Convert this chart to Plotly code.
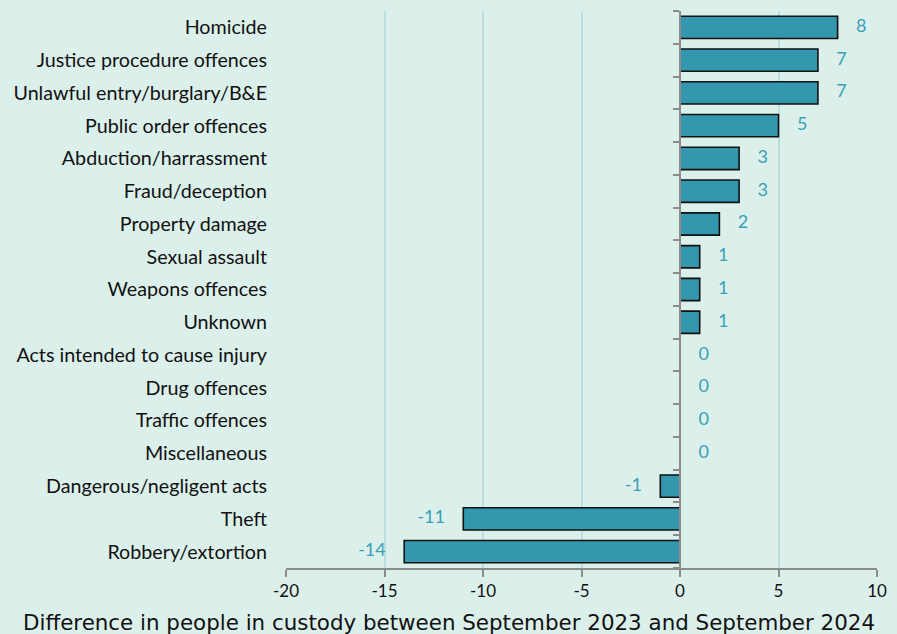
import plotly.graph_objects as go

categories = ["Homicide", "Justice procedure offences", "Unlawful entry/burglary/B&E",
              "Public order offences", "Abduction/harrassment", "Fraud/deception",
              "Property damage", "Sexual assault", "Weapons offences", "Unknown",
              "Acts intended to cause injury", "Drug offences", "Traffic offences",
              "Miscellaneous", "Dangerous/negligent acts", "Theft", "Robbery/extortion"]
values = [8, 7, 7, 5, 3, 3, 2, 1, 1, 1, 0, 0, 0, 0, -1, -11, -14]
x_ticks = [-20, -15, -10, -5, 0, 5, 10]
x_title = "Difference in people in custody between September 2023 and September 2024"

BG = "#dcf0eb"
BAR = "#3398ad"
LBL = "#3a9fb8"
GRID = "#bcdede"
AX = "#8c8c8c"

fig = go.Figure()
fig.add_trace(go.Bar(
    y=categories, x=values, orientation="h",
    marker=dict(color=BAR, line=dict(color="#111111", width=1.6)),
    width=0.68, hoverinfo="skip", showlegend=False,
))
fig.add_trace(go.Scatter(
    y=categories, x=values, mode="text",
    text=[f"    {v}" if v >= 0 else f"{v}    " for v in values],
    textposition=["middle right" if v >= 0 else "middle left" for v in values],
    textfont=dict(family="Lato", size=18, color=LBL),
    hoverinfo="skip", showlegend=False,
))
# zero axis with boundary ticks
fig.add_trace(go.Scatter(
    y=categories, x=[0] * len(categories), yaxis="y2", mode="markers",
    marker=dict(opacity=0), hoverinfo="skip", showlegend=False,
))

fig.add_annotation(text=x_title, xref="paper", yref="paper", x=0.275, y=-0.097,
                   xanchor="center", yanchor="middle", showarrow=False,
                   font=dict(family="DejaVu Sans", size=21.4, color="#111111"))

fig.update_layout(
    width=897, height=634,
    paper_bgcolor=BG, plot_bgcolor=BG,
    margin=dict(l=286, r=20, t=11, b=66),
    font=dict(family="Lato", size=16, color="#111111"),
    xaxis=dict(range=[-20, 10], tickvals=x_ticks, ticktext=[str(t) for t in x_ticks],
               showgrid=True, gridcolor=GRID,
               gridwidth=1.5, zeroline=False, showline=True, linecolor=AX, linewidth=2,
               ticks="outside", ticklen=7, tickcolor=AX, tickwidth=2,
               tickfont=dict(family="Lato", size=17, color="#111111")),
    yaxis=dict(categoryorder="array", categoryarray=categories[::-1],
               autorange=False, range=[-0.5, len(categories) - 0.5],
               showgrid=False, zeroline=False, showline=False, ticks="",
               ticklabelstandoff=18, tickfont=dict(family="Lato", size=19.7, color="#111111")),
    yaxis2=dict(overlaying="y", anchor="free", position=2 / 3, side="left",
                categoryorder="array", categoryarray=categories[::-1],
                autorange=False, range=[-0.5, len(categories) - 0.5],
                showticklabels=False, showgrid=False, zeroline=False,
                showline=True, linecolor=AX, linewidth=2,
                ticks="outside", tickson="boundaries", ticklen=6, tickcolor=AX, tickwidth=2),
)

fig.write_html("out.html", config={"displayModeBar": False},
               post_script="document.body.style.margin='0';")
